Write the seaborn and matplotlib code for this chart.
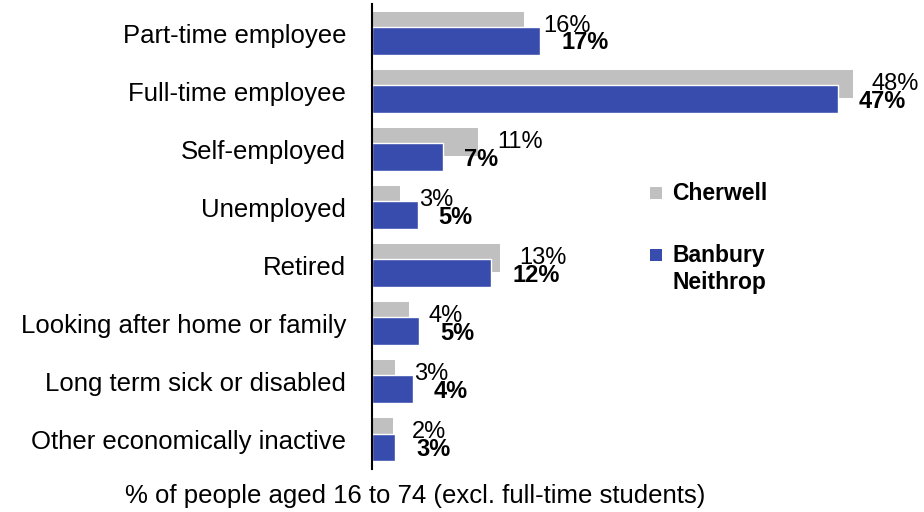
import matplotlib
matplotlib.use("Agg")
import matplotlib.pyplot as plt
from matplotlib.patches import Rectangle
import seaborn as sns
import pandas as pd

categories = [
    "Part-time employee",
    "Full-time employee",
    "Self-employed",
    "Unemployed",
    "Retired",
    "Looking after home or family",
    "Long term sick or disabled",
    "Other economically inactive",
]
series_names = ["Cherwell", "Banbury\nNeithrop"]
cherwell_values = [15.2, 48.0, 10.6, 2.75, 12.8, 3.7, 2.3, 2.1]
banbury_values = [16.8, 46.5, 7.1, 4.55, 11.9, 4.7, 4.1, 2.3]
cherwell_labels = ["16%", "48%", "11%", "3%", "13%", "4%", "3%", "2%"]
banbury_labels = ["17%", "47%", "7%", "5%", "12%", "5%", "4%", "3%"]
x_label = "% of people aged 16 to 74 (excl. full-time students)"

GRAY = "#C0C0C0"
BLUE = "#384CAD"

sns.set_theme(style="white")
plt.rcParams["font.family"] = ["Liberation Sans", "DejaVu Sans"]

df = pd.DataFrame({
    "category": categories * 2,
    "value": cherwell_values + banbury_values,
    "series": [series_names[0]] * len(categories) + [series_names[1]] * len(categories),
})

fig = plt.figure(figsize=(9.24, 5.12), dpi=100)
ax = fig.add_axes([372 / 924, 43 / 512, 551 / 924, 465 / 512])

bar_h = 0.48
sns.barplot(data=df, y="category", x="value", hue="series", order=categories,
            hue_order=series_names, palette=[GRAY, BLUE], dodge=False,
            width=bar_h, orient="h", ax=ax, legend=False, saturation=1)

n = len(categories)
patches = [p for p in ax.patches]
for i, p in enumerate(patches[:n]):
    p.set_y(p.get_y() - 0.13)
    p.set_edgecolor("none")
for i, p in enumerate(patches[n:2 * n]):
    p.set_y(p.get_y() + 0.13)
    p.set_edgecolor("white")
    p.set_linewidth(1.0)

# value labels
for i in range(n):
    ax.text(cherwell_values[i] + 1.9, i - 0.13, cherwell_labels[i], ha="left",
            va="center", fontsize=17, color="black")
    ax.text(banbury_values[i] + 2.1, i + 0.17, banbury_labels[i], ha="left",
            va="center", fontsize=17, fontweight="bold", color="black")

ax.set_xlim(0, 55)
ax.set_ylim(n - 0.5, -0.5)
ax.set_xlabel("")
ax.set_ylabel("")
ax.set_xticks([])
ax.tick_params(axis="y", length=0, pad=18.5, labelsize=18.5, labelcolor="black")
for s in ["top", "right", "bottom"]:
    ax.spines[s].set_visible(False)
ax.spines["left"].set_color("black")
ax.spines["left"].set_linewidth(1.5)

fig.text(415 / 924, 1 - 496 / 512, x_label, ha="center", va="center", fontsize=18.5,
         color="black")

# legend
sq = 12
fig.patches.append(Rectangle((650 / 924, 1 - 199 / 512), sq / 924, sq / 512,
                             transform=fig.transFigure, facecolor=GRAY, edgecolor="none"))
fig.text(672 / 924, 1 - 193 / 512, series_names[0], ha="left", va="center",
         fontsize=16.5, fontweight="bold", color="black")
fig.patches.append(Rectangle((650 / 924, 1 - 261 / 512), sq / 924, sq / 512,
                             transform=fig.transFigure, facecolor=BLUE, edgecolor="none"))
fig.text(672 / 924, 1 - 244 / 512, series_names[1], ha="left", va="top",
         fontsize=16.5, fontweight="bold", color="black", linespacing=1.25)

fig.savefig("out.png", dpi=100)
